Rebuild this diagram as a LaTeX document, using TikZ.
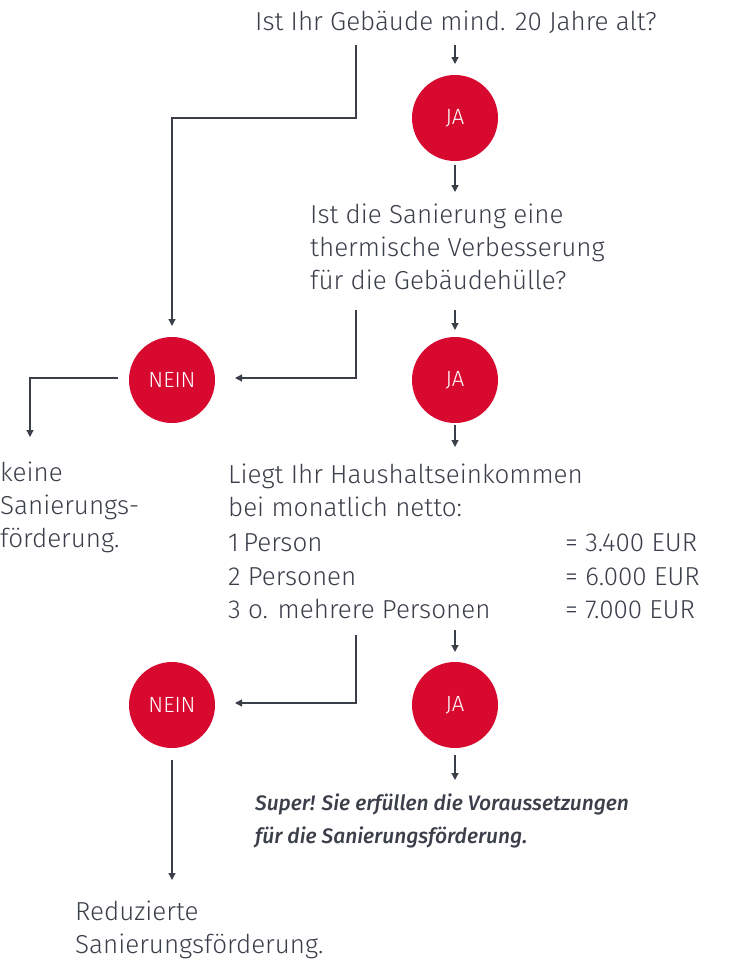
\documentclass[tikz,border=0pt]{standalone}
\usepackage{fontspec}
\setmainfont{Fira Sans Light}
\newfontfamily\boldit{Fira Sans}[UprightFont=* Medium,ItalicFont=* Medium Italic]
\usetikzlibrary{arrows.meta}
\definecolor{txt}{HTML}{3A3F4A}
\definecolor{red}{HTML}{D7092F}
\begin{document}
\begin{tikzpicture}[x=1pt,y=-1pt,
  ln/.style={draw=txt,line width=1.2pt},
  ar/.style={ln,-{Triangle[length=7pt,width=7pt]}},
  circ/.style={circle,fill=red,minimum size=86pt,inner sep=0pt,text=white,font=\fontsize{22}{22}\selectfont},
  tx/.style={anchor=base west,inner sep=0pt,text=txt,font=\fontsize{26}{26}\selectfont},
  it/.style={anchor=base west,inner sep=0pt,text=txt,font=\boldit\itshape\fontsize{21}{21}\selectfont}]
\useasboundingbox (0,0) rectangle (730,969);
\node[tx] (q1) at (255,30) {Ist Ihr Gebäude mind. 20 Jahre alt?};
\coordinate (a1) at (455,45);
\node[circ] (ja1) at (455,118) {JA};
\draw[ar] (a1) -- (ja1.north|-0,64);
\coordinate (b1) at (455,165);
\node[tx] (q2a) at (310,223) {Ist die Sanierung eine};
\node[tx] (q2b) at (310,256) {thermische Verbesserung};
\node[tx] (q2c) at (310,289) {für die Gebäudehülle?};
\draw[ar] (b1) -- (455,192);
\node[circ] (nein1) at (172,380) {NEIN};
\coordinate (c1) at (356,45);
\draw[ar] (c1) -- (356,118) -- (172,118) -- (nein1.north|-0,326);
\node[circ] (ja2) at (455,380) {JA};
\draw[ar] (455,310) -- (455,330);
\draw[ar] (356,310) -- (356,378) -- (235,378);
\draw[ar] (118,378) -- (30,378) -- (30,437);
\node[tx] (k1) at (0,481) {keine};
\node[tx] (k2) at (0,514) {Sanierungs-};
\node[tx] (k3) at (0,547) {förderung.};
\draw[ar] (455,425) -- (455,447);
\node[tx] (l1) at (228,483) {Liegt Ihr Haushaltseinkommen};
\node[tx] (l2) at (228,516) {bei monatlich netto:};
\node[tx] (l3) at (228,551) {1\,Person};
\node[tx] (l4) at (228,585) {2 Personen};
\node[tx] (l5) at (228,618) {3 o. mehrere Personen};
\node[tx] (r3) at (565,551) {= 3.400 EUR};
\node[tx] (r4) at (565,585) {= 6.000 EUR};
\node[tx] (r5) at (565,618) {= 7.000 EUR};
\node[circ] (ja3) at (455,705) {JA};
\node[circ] (nein2) at (172,705) {NEIN};
\draw[ar] (455,630) -- (455,652);
\draw[ar] (356,635) -- (356,703) -- (235,703);
\draw[ar] (455,755) -- (455,780);
\node[it] (s1) at (255,810) {Super! Sie erfüllen die Voraussetzungen};
\node[it] (s2) at (255,843) {für die Sanierungsförderung.};
\draw[ar] (172,760) -- (172,880);
\node[tx] (rd1) at (75,920) {Reduzierte};
\node[tx] (rd2) at (75,953) {Sanierungsförderung.};
\end{tikzpicture}
\end{document}
